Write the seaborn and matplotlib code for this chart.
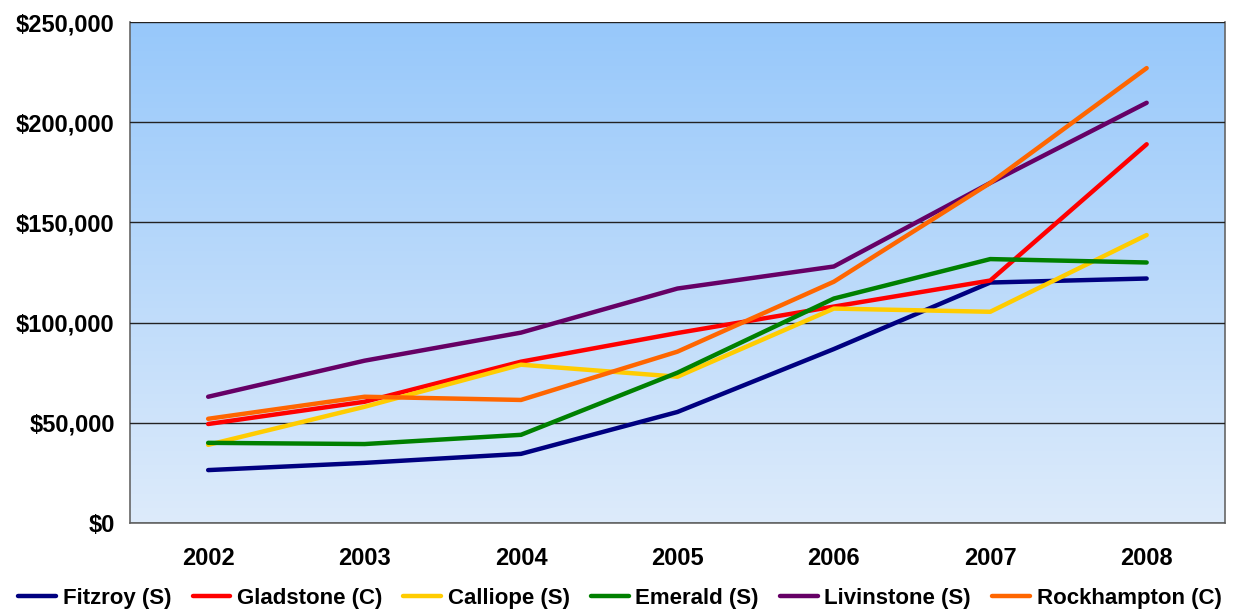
import numpy as np
import pandas as pd
import seaborn as sns
import matplotlib.pyplot as plt
from matplotlib.colors import LinearSegmentedColormap
from matplotlib.ticker import FuncFormatter

years = [2002, 2003, 2004, 2005, 2006, 2007, 2008]
fitzroy = [26400, 30000, 34500, 55400, 86800, 120000, 122000]
gladstone = [49400, 60500, 80500, 94800, 108000, 121000, 189000]
calliope = [39000, 58000, 79000, 73000, 107000, 105400, 143700]
emerald = [40000, 39400, 44000, 75000, 112000, 131700, 130000]
livinstone = [63000, 81000, 95000, 117000, 128000, 169700, 209700]
rockhampton = [52000, 63000, 61400, 85500, 120400, 169700, 227000]

names = ['Fitzroy (S)', 'Gladstone (C)', 'Calliope (S)', 'Emerald (S)',
         'Livinstone (S)', 'Rockhampton (C)']
colors = ['#000080', '#FF0000', '#FFCC00', '#008000', '#660066', '#FF6600']

series = [fitzroy, gladstone, calliope, emerald, livinstone, rockhampton]
df = pd.DataFrame({
    'year': years * len(names),
    'value': sum(series, []),
    'region': np.repeat(names, len(years)),
})

sns.set_style('white')
plt.rcParams['font.family'] = ['Liberation Sans', 'DejaVu Sans']
plt.rcParams['font.weight'] = 'bold'
plt.rcParams['text.color'] = 'black'
plt.rcParams['xtick.color'] = 'black'
plt.rcParams['ytick.color'] = 'black'

fig = plt.figure(figsize=(12.4, 6.15), dpi=100)
ax = fig.add_axes([0.1048, 0.1496, 0.8830, 0.8146])

# gradient background
cmap = LinearSegmentedColormap.from_list('bg', ['#DDEBFB', '#97C8FA'])
grad = np.linspace(0, 1, 256).reshape(-1, 1)
ax.imshow(grad, extent=[2001.5, 2008.5, 0, 250000], origin='lower',
          aspect='auto', cmap=cmap, zorder=0)

sns.lineplot(data=df, x='year', y='value', hue='region', hue_order=names,
             palette=colors, linewidth=3.2, sort=False, ax=ax, zorder=3,
             legend=True)

ax.set_xlim(2001.5, 2008.5)
ax.set_ylim(0, 250000)
ax.set_yticks(np.arange(0, 250001, 50000))
ax.yaxis.set_major_formatter(FuncFormatter(lambda v, p: f'${v:,.0f}'))
ax.set_xticks(years)
ax.set_xticks(np.arange(2001.5, 2009, 1), minor=True)
ax.tick_params(axis='x', which='major', length=0, pad=17, labelsize=17)
ax.tick_params(axis='x', which='minor', length=7, width=1, color='#444444',
               direction='out')
ax.tick_params(axis='y', length=7, width=1, color='#444444', labelsize=17,
               direction='out', pad=4)
for lab in ax.get_xticklabels() + ax.get_yticklabels():
    lab.set_fontweight('bold')
ax.set_xlabel('')
ax.set_ylabel('')
ax.grid(axis='y', color='#222222', linewidth=1)
ax.grid(axis='x', visible=False)
ax.set_axisbelow(False)
for s in ['left', 'bottom', 'right']:
    ax.spines[s].set_color('#666666')
    ax.spines[s].set_linewidth(1.2)
ax.spines['top'].set_visible(False)

handles, labels = ax.get_legend_handles_labels()
ax.get_legend().remove()
fig.legend(handles, labels, loc='lower center', bbox_to_anchor=(0.5, -0.022),
           ncol=6, frameon=False, handlelength=1.7, handletextpad=0.3,
           columnspacing=0.95, prop={'size': 16, 'weight': 'bold'})

fig.savefig('out.png', dpi=100)
